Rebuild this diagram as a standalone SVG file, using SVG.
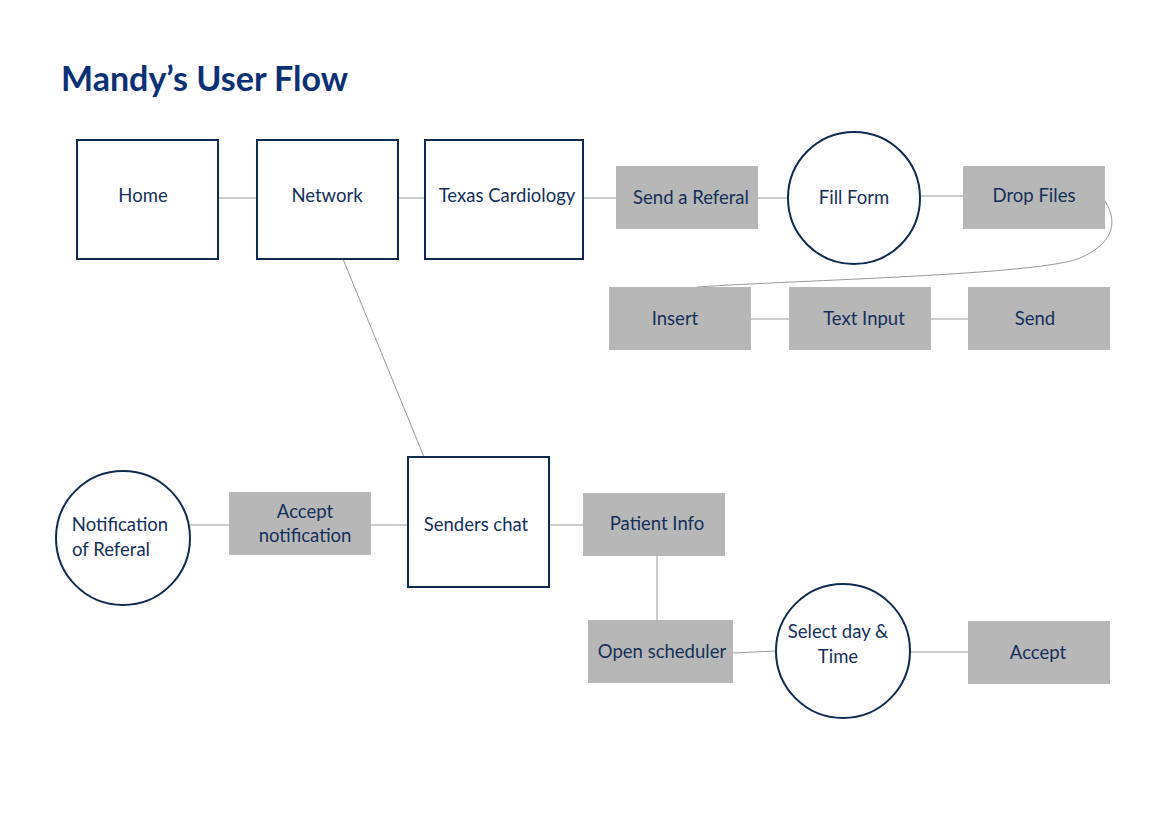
<svg xmlns="http://www.w3.org/2000/svg" width="1163" height="814" viewBox="0 0 1163 814">
<style>
.box{fill:#fff;stroke:#0f2b4f;stroke-width:2}
.gray{fill:#b7b7b7}
.circ{fill:#fff;stroke:#0f2b4f;stroke-width:2}
.lbl{font-family:Lato,"Noto Sans",sans-serif;font-size:18.5px;fill:#14305a;text-anchor:middle}
.conn{stroke:#999;stroke-width:1;fill:none}
</style>
<rect width="1163" height="814" fill="#fff"/>
<text x="61" y="91" font-family="Lato,'Noto Sans',sans-serif" font-size="34" font-weight="bold" fill="#0b3174">Mandy’s User Flow</text>
<g id="connectors">
<line class="conn" x1="218" y1="198" x2="257" y2="198"/>
<line class="conn" x1="398" y1="198" x2="425" y2="198"/>
<line class="conn" x1="583" y1="198" x2="616" y2="198"/>
<line class="conn" x1="758" y1="198" x2="788" y2="198"/>
<line class="conn" x1="920" y1="196" x2="963" y2="196"/>
<path class="conn" d="M1105,201 C1120,225 1110,245 1080,258 C1040,275 800,280 697,287"/>
<line class="conn" x1="751" y1="319" x2="789" y2="319"/>
<line class="conn" x1="931" y1="319" x2="968" y2="319"/>
<line class="conn" x1="343" y1="259" x2="424" y2="457"/>
<line class="conn" x1="190" y1="525" x2="229" y2="525"/>
<line class="conn" x1="371" y1="525" x2="408" y2="525"/>
<line class="conn" x1="549" y1="525" x2="583" y2="525"/>
<line class="conn" x1="657" y1="556" x2="657" y2="620"/>
<line class="conn" x1="733" y1="653" x2="776" y2="651"/>
<line class="conn" x1="910" y1="652" x2="968" y2="652"/>
</g>
<g id="home"><rect class="box" x="77" y="140" width="141" height="119"/><text class="lbl" x="143" y="202">Home</text></g>
<g id="network"><rect class="box" x="257" y="140" width="141" height="119"/><text class="lbl" x="327" y="202">Network</text></g>
<g id="texas"><rect class="box" x="425" y="140" width="158" height="119"/><text class="lbl" x="507" y="202">Texas Cardiology</text></g>
<g id="sendref"><rect class="gray" x="616" y="166" width="142" height="63"/><text class="lbl" x="691" y="204">Send a Referal</text></g>
<g id="fillform"><circle class="circ" cx="854" cy="198" r="66"/><text class="lbl" x="854" y="204">Fill Form</text></g>
<g id="dropfiles"><rect class="gray" x="963" y="166" width="142" height="63"/><text class="lbl" x="1034" y="202">Drop Files</text></g>
<g id="insert"><rect class="gray" x="609" y="287" width="142" height="63"/><text class="lbl" x="675" y="325">Insert</text></g>
<g id="textinput"><rect class="gray" x="789" y="287" width="142" height="63"/><text class="lbl" x="864" y="325">Text Input</text></g>
<g id="send"><rect class="gray" x="968" y="287" width="142" height="63"/><text class="lbl" x="1035" y="325">Send</text></g>
<g id="notif"><circle class="circ" cx="123" cy="538" r="67"/><text class="lbl" x="120" y="531">Notification</text><text class="lbl" x="111" y="556">of Referal</text></g>
<g id="acceptnotif"><rect class="gray" x="229" y="492" width="142" height="63"/><text class="lbl" x="305" y="518">Accept</text><text class="lbl" x="305" y="542">notification</text></g>
<g id="senders"><rect class="box" x="408" y="457" width="141" height="130"/><text class="lbl" x="476" y="531">Senders chat</text></g>
<g id="patient"><rect class="gray" x="583" y="493" width="142" height="63"/><text class="lbl" x="657" y="530">Patient Info</text></g>
<g id="scheduler"><rect class="gray" x="588" y="620" width="145" height="63"/><text class="lbl" x="662" y="658">Open scheduler</text></g>
<g id="selectday"><circle class="circ" cx="843" cy="651" r="67"/><text class="lbl" x="838" y="638">Select day &amp;</text><text class="lbl" x="838" y="663">Time</text></g>
<g id="accept"><rect class="gray" x="968" y="621" width="142" height="63"/><text class="lbl" x="1038" y="659">Accept</text></g>
</svg>
